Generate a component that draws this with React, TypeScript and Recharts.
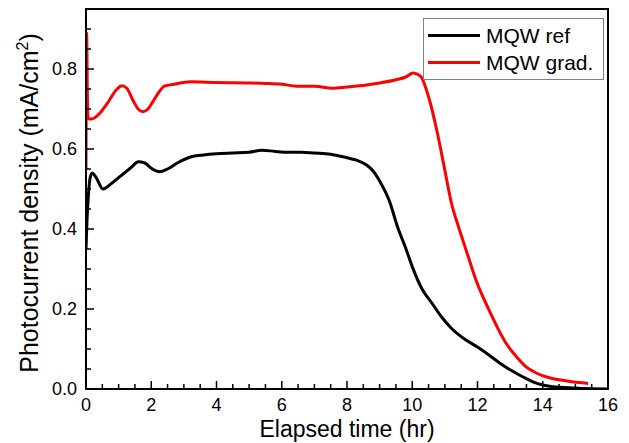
import React from "react";
import {
  LineChart,
  Line,
  XAxis,
  YAxis,
  Legend,
  ReferenceArea,
} from "recharts";

// MQW ref (black)
const refTime = [
  0, 0.03, 0.07, 0.12, 0.19, 0.3, 0.52, 0.8, 1.1, 1.4, 1.6, 1.8, 2.0, 2.26,
  2.5, 2.8, 3.2, 3.6, 4.0, 4.5, 5.0, 5.4, 5.8, 6.2, 6.6, 7.0, 7.5, 8.0, 8.3,
  8.6, 8.8, 9.0, 9.3, 9.55, 9.8, 10.0, 10.3, 10.6, 10.9, 11.2, 11.6, 12.0,
  12.4, 12.7, 13.0, 13.4, 13.7, 14.0, 14.4, 14.8, 15.2, 16.0,
];
const refValue = [
  0.35, 0.42, 0.48, 0.525, 0.54, 0.53, 0.5, 0.515, 0.535, 0.555, 0.568, 0.565,
  0.552, 0.543, 0.55, 0.565, 0.58, 0.585, 0.588, 0.59, 0.592, 0.597, 0.594,
  0.592, 0.592, 0.59, 0.587, 0.578, 0.572, 0.56, 0.545, 0.52, 0.47, 0.405,
  0.352, 0.306, 0.25, 0.215, 0.18, 0.152, 0.125, 0.105, 0.082, 0.064, 0.048,
  0.03, 0.018, 0.01, 0.005, 0.003, 0.001, 0,
];

// MQW grad. (red)
const gradTime = [
  0, 0.02, 0.04, 0.06, 0.1, 0.17, 0.43, 0.7, 0.95, 1.1, 1.25, 1.45, 1.6, 1.74,
  1.9, 2.1, 2.26, 2.4, 2.7, 3.2, 4.0, 5.0, 5.5, 6.0, 6.45, 7.0, 7.55, 8.0, 8.6,
  9.0, 9.5, 9.8, 10.03, 10.25, 10.52, 10.77, 10.98, 11.2, 11.44, 11.7, 11.95,
  12.35, 12.87, 13.2, 13.48, 13.8, 14.2, 14.6, 15.1, 15.39,
];
const gradValue = [
  0.55, 0.89, 0.75, 0.68, 0.675, 0.675, 0.69, 0.72, 0.75, 0.758, 0.752, 0.72,
  0.7, 0.693, 0.7, 0.725, 0.745, 0.757, 0.762, 0.768, 0.766, 0.765, 0.764,
  0.762, 0.757, 0.757, 0.752, 0.755, 0.76, 0.765, 0.773, 0.78, 0.79, 0.782,
  0.725, 0.64, 0.555, 0.465, 0.4, 0.335, 0.273, 0.198, 0.115, 0.08, 0.056,
  0.04, 0.028, 0.022, 0.016, 0.014,
];

const xTicks = [
  0, 0.5, 1, 1.5, 2, 2.5, 3, 3.5, 4, 4.5, 5, 5.5, 6, 6.5, 7, 7.5, 8, 8.5, 9,
  9.5, 10, 10.5, 11, 11.5, 12, 12.5, 13, 13.5, 14, 14.5, 15, 15.5, 16,
];
const yTicks = [
  0, 0.05, 0.1, 0.15, 0.2, 0.25, 0.3, 0.35, 0.4, 0.45, 0.5, 0.55, 0.6, 0.65,
  0.7, 0.75, 0.8, 0.85, 0.9,
];

const refData = refTime.map((t, i) => ({ t, v: refValue[i] }));
const gradData = gradTime.map((t, i) => ({ t, v: gradValue[i] }));

const FONT = '"Liberation Sans", Arial, sans-serif';

function XTick({ x, y, payload }: any) {
  const v = payload.value;
  const major = Math.abs(v % 2) < 1e-6;
  return (
    <g>
      <line x1={x} x2={x} y1={y} y2={y - (major ? 8 : 5)} stroke="#000" strokeWidth={1.5} />
      {major && (
        <text x={x} y={y + 22} textAnchor="middle" fontSize={18} fontFamily={FONT} fill="#000">
          {v}
        </text>
      )}
    </g>
  );
}

function YTick({ x, y, payload }: any) {
  const v = payload.value;
  const major = Math.abs(v * 5 - Math.round(v * 5)) < 1e-6;
  return (
    <g>
      <line x1={x} x2={x + (major ? 8 : 5)} y1={y} y2={y} stroke="#000" strokeWidth={1.5} />
      {major && (
        <text x={x - 9} y={y + 6} textAnchor="end" fontSize={18} fontFamily={FONT} fill="#000">
          {v.toFixed(1)}
        </text>
      )}
    </g>
  );
}

function LegendBox() {
  const row = (color: string, label: string) => (
    <div style={{ display: "flex", alignItems: "center", height: 27 }}>
      <div style={{ width: 52, height: 3, background: color, marginRight: 6 }} />
      <span style={{ fontSize: 21, fontFamily: FONT, color: "#000" }}>{label}</span>
    </div>
  );
  return (
    <div
      style={{
        width: 181,
        height: 62,
        boxSizing: "border-box",
        border: "1px solid #808080",
        background: "#fff",
        padding: "3px 0 0 4px",
      }}
    >
      {row("#000", "MQW ref")}
      {row("#ff0000", "MQW grad.")}
    </div>
  );
}

export default function App() {
  return (
    <div style={{ position: "absolute", left: 0, top: 0, width: 629, height: 443, background: "#fff" }}>
      <LineChart width={629} height={443} margin={{ top: 9, right: 21, bottom: 0, left: 0 }}>
        <XAxis
          type="number"
          dataKey="t"
          domain={[0, 16]}
          ticks={xTicks}
          interval={0}
          height={54}
          tickSize={0}
          tickMargin={0}
          tickLine={false}
          axisLine={{ stroke: "#000", strokeWidth: 2 }}
          tick={<XTick />}
          allowDataOverflow
          label={{
            content: () => (
              <text x={347} y={437} textAnchor="middle" fontSize={23} fontFamily={FONT} fill="#000">
                Elapsed time (hr)
              </text>
            ),
          }}
        />
        <YAxis
          type="number"
          domain={[0, 0.95]}
          ticks={yTicks}
          interval={0}
          width={86}
          tickSize={0}
          tickMargin={0}
          tickLine={false}
          axisLine={{ stroke: "#000", strokeWidth: 2 }}
          tick={<YTick />}
          allowDataOverflow
          label={{
            content: () => (
              <text
                x={38}
                y={203}
                transform="rotate(-90 38 203)"
                textAnchor="middle"
                fontSize={25}
                fontFamily={FONT}
                fill="#000"
              >
                Photocurrent density (mA/cm
                <tspan dy={-10} fontSize={16}>2</tspan>
                <tspan dy={10}>)</tspan>
              </text>
            ),
          }}
        />
        <ReferenceArea x1={0} x2={16} y1={0} y2={0.95} fill="none" stroke="#000" strokeWidth={2} ifOverflow="visible" />
        <Line
          data={refData}
          dataKey="v"
          name="MQW ref"
          type="monotone"
          stroke="#000"
          strokeWidth={3}
          dot={false}
          isAnimationActive={false}
        />
        <Line
          data={gradData}
          dataKey="v"
          name="MQW grad."
          type="monotone"
          stroke="#ff0000"
          strokeWidth={3}
          dot={false}
          isAnimationActive={false}
        />
        <Legend
          layout="vertical"
          align="center"
          verticalAlign="middle"
          content={() => <LegendBox />}
          wrapperStyle={{ top: 18, left: 423, width: "auto", height: "auto" }}
        />
      </LineChart>
    </div>
  );
}
